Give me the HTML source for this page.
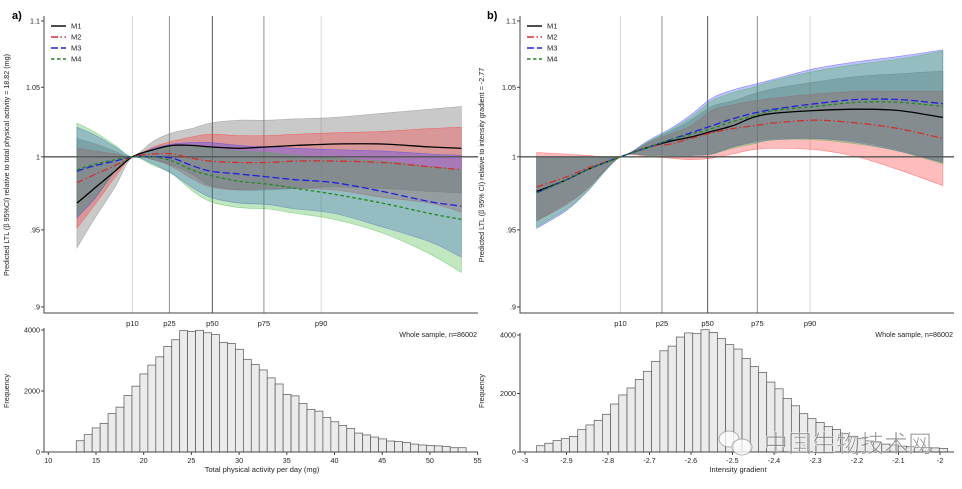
<!DOCTYPE html>
<html><head><meta charset="utf-8"><style>
body{margin:0;background:#fff;width:962px;height:489px;overflow:hidden}
svg{display:block;font-family:"Liberation Sans","Noto Sans CJK SC",sans-serif}
</style></head><body>
<svg id="c" width="962" height="489" viewBox="0 0 962 489" xmlns="http://www.w3.org/2000/svg">
<text x="12" y="19" font-size="11" font-weight="bold">a)</text>
<text x="487" y="19" font-size="11" font-weight="bold">b)</text>
<text transform="translate(9,165) rotate(-90)" font-size="7.2" text-anchor="middle" fill="#222">Predicted LTL (β 95%CI) relative to total physical activity = 18.82 (mg)</text>
<text transform="translate(484,165) rotate(-90)" font-size="7.2" text-anchor="middle" fill="#222">Predicted LTL (β 95% CI) relative to intensity gradient = -2.77</text>
<text transform="translate(9,391) rotate(-90)" font-size="7.2" text-anchor="middle" fill="#222">Frequency</text>
<text transform="translate(484,391) rotate(-90)" font-size="7.2" text-anchor="middle" fill="#222">Frequency</text>
<text x="262" y="472" font-size="7.5" text-anchor="middle" fill="#222">Total physical activity per day (mg)</text>
<text x="738" y="472" font-size="7.5" text-anchor="middle" fill="#222">Intensity gradient</text>
<text x="477" y="337" font-size="7.2" text-anchor="end" fill="#222">Whole sample, n=86002</text>
<text x="953" y="337" font-size="7.2" text-anchor="end" fill="#222">Whole sample, n=86002</text>
<g id="gA"></g><g id="gB"></g>
<g opacity="0.75">
<ellipse cx="729" cy="439" rx="10" ry="8" fill="#fff" stroke="#999" stroke-width="1"/>
<ellipse cx="742" cy="447" rx="10" ry="8" fill="#fff" stroke="#999" stroke-width="1"/>
<text x="764" y="452" font-size="24" fill="#777" stroke="#fff" stroke-width="0.6">中国生物技术网</text>
</g>
</svg>
<script>
// ---------- Panel A data ----------
const xA = [13,15,17,18.82,21,23,25,27,30,33,36,40,45,50,53.3];
const m1A = [.968,.979,.990,1,1.005,1.008,1.008,1.007,1.006,1.007,1.008,1.009,1.009,1.007,1.006];
const m1AUp = [1.013,1.009,1.004,1,1.011,1.017,1.020,1.024,1.026,1.026,1.027,1.028,1.031,1.034,1.036];
const m1ALo = [.938,.959,.979,1,.998,.994,.988,.980,.977,.977,.978,.979,.978,.976,.975];
const m2A = [.982,.988,.994,1,1.002,1.002,.999,.997,.996,.996,.997,.997,.996,.993,.991];
const m2AUp = [1.006,1.004,1.002,1,1.007,1.011,1.014,1.016,1.015,1.015,1.016,1.017,1.018,1.020,1.021];
const m2ALo = [.951,.968,.986,1,.998,.993,.985,.979,.977,.978,.978,.977,.972,.968,.962];
const m3A = [.990,.994,.997,1,1.000,.999,.994,.990,.988,.986,.984,.982,.976,.969,.966];
const m3AUp = [1.021,1.015,1.007,1,1.006,1.009,1.010,1.010,1.008,1.007,1.006,1.005,1.004,1.002,1.001];
const m3ALo = [.958,.972,.990,1,.995,.988,.979,.972,.968,.967,.964,.961,.952,.942,.932];
const m4A = [.991,.995,.998,1,1.000,.997,.991,.987,.983,.981,.978,.974,.968,.961,.957];
const m4AUp = [1.024,1.017,1.008,1,1.005,1.007,1.007,1.006,1.004,1.003,1.001,.999,.997,.993,.991];
const m4ALo = [.959,.973,.990,1,.994,.988,.977,.969,.965,.964,.961,.957,.948,.934,.922];
const pctA = [18.82,22.7,27.2,32.6,38.6];
const histA = [370,570,790,940,1260,1470,1850,2160,2560,2850,3120,3460,3680,3980,3950,3990,3910,3850,3590,3560,3370,3040,2870,2690,2430,2230,1890,1840,1590,1400,1340,1130,990,870,770,620,560,490,430,360,340,310,260,230,210,200,180,140,140];
const histAStart = 12.93, histABin = 0.834;
const xTicksA = [10,15,20,25,30,35,40,45,50,55];
// ---------- Panel B data ----------
const xB = [-2.972,-2.9,-2.85,-2.77,-2.7,-2.65,-2.6,-2.55,-2.5,-2.45,-2.4,-2.3,-2.2,-2.1,-1.993];
const m1B = [.976,.984,.991,1,1.007,1.011,1.014,1.018,1.022,1.028,1.031,1.033,1.034,1.033,1.028];
const m1BUp = [1,1,1,1,1.011,1.018,1.026,1.036,1.040,1.045,1.049,1.054,1.058,1.060,1.062];
const m1BLo = [.956,.968,.978,1,1.001,1.001,1.001,1.002,1.007,1.011,1.013,1.013,1.011,1.005,.996];
const m2B = [.979,.986,.992,1,1.007,1.009,1.013,1.017,1.020,1.022,1.024,1.026,1.024,1.020,1.013];
const m2BUp = [1.003,1.002,1.001,1,1.010,1.016,1.022,1.033,1.037,1.040,1.042,1.045,1.047,1.047,1.047];
const m2BLo = [.956,.967,.978,1,1.000,.999,.998,.999,1.002,1.005,1.006,1.005,1.000,.991,.980];
const m3B = [.975,.984,.991,1,1.007,1.012,1.017,1.022,1.027,1.031,1.034,1.038,1.041,1.041,1.038];
const m3BUp = [1,1,1,1,1.012,1.020,1.030,1.042,1.048,1.052,1.056,1.064,1.069,1.073,1.078];
const m3BLo = [.951,.963,.976,1,1.001,1.001,1.001,1.002,1.007,1.010,1.012,1.013,1.010,1.004,.996];
const m4B = [.975,.984,.991,1,1.007,1.012,1.016,1.020,1.025,1.029,1.033,1.036,1.039,1.039,1.036];
const m4BUp = [1,1,1,1,1.011,1.019,1.028,1.040,1.046,1.050,1.055,1.062,1.067,1.071,1.077];
const m4BLo = [.952,.964,.976,1,1.001,1.001,1.001,1.002,1.006,1.009,1.012,1.012,1.009,1.004,.995];
const pctB = [-2.77,-2.67,-2.56,-2.44,-2.313];
const histB = [215,300,390,455,535,765,925,1080,1290,1640,1950,2190,2480,2760,3100,3460,3620,3930,4070,4045,4180,4090,3880,3670,3520,3200,2920,2720,2390,2160,1830,1580,1310,1140,1010,870,770,640,550,460,380,320,270,240,200,180,160,150,140,125];
const histBStart = -2.972, histBBin = 0.0198;
const xTicksB = [-3,-2.9,-2.8,-2.7,-2.6,-2.5,-2.4,-2.3,-2.2,-2.1,-2];
const xTickLabelsB = ["-3","-2.9","-2.8","-2.7","-2.6","-2.5","-2.4","-2.3","-2.2","-2.1","-2"];
const pctLabels = ["p10","p25","p50","p75","p90"];
const yTicks = [0.9,0.95,1,1.05,1.1];
const yTickLabels = [".9",".95","1","1.05","1.1"];
const histYTicks = [0,2000,4000];
const modelNames = ["M1","M2","M3","M4"];

const NS="http://www.w3.org/2000/svg";
function mk(p,tag,attrs){const e=document.createElementNS(NS,tag);for(const k in attrs)e.setAttribute(k,attrs[k]);p.appendChild(e);return e;}
const yScale = v => 156.8 - 1425*Math.log(v);
function smooth(pts){let d="M"+pts[0][0].toFixed(1)+","+pts[0][1].toFixed(1);
 for(let i=0;i<pts.length-1;i++){const p0=pts[Math.max(0,i-1)],p1=pts[i],p2=pts[i+1],p3=pts[Math.min(pts.length-1,i+2)];
  const c1=[p1[0]+(p2[0]-p0[0])/6,p1[1]+(p2[1]-p0[1])/6],c2=[p2[0]-(p3[0]-p1[0])/6,p2[1]-(p3[1]-p1[1])/6];
  d+="C"+c1[0].toFixed(1)+","+c1[1].toFixed(1)+" "+c2[0].toFixed(1)+","+c2[1].toFixed(1)+" "+p2[0].toFixed(1)+","+p2[1].toFixed(1);}
 return d;}
function smoothRev(pts){const d=smooth(pts.slice().reverse());return "L"+d.slice(1);}

const colors=[["#777","#000"],["#ff3030","#d03030"],["#3a3aff","#2020e0"],["#3cb43c","#208a20"]];
const dashes=["none","7 2.5 1.5 2.5","7 3","3.5 2.5"];

function panel(g,key,xs,series,pct,xScale,axL,axR,histData,hStart,hBin,hTicks,hTickLabels,hxScale,hY0,hY4000){
 // percentile lines
 pct.forEach((p,i)=>{const x=xScale(p);
  const l=mk(g,"line",{x1:x,x2:x,y1:16,y2:313,stroke:(i==0||i==4)?"#d8d8d8":(i==2?"#666":"#999"),"stroke-width":(i==0||i==4)?1:1.1});
  
  
  const t=mk(g,"text",{x:x,y:326,"font-size":7.5,"text-anchor":"middle",fill:"#222"});t.textContent=pctLabels[i];
  
  });
 // bands
 series.forEach((s,k)=>{const up=xs.map((x,i)=>[xScale(x),yScale(s[1][i])]),lo=xs.map((x,i)=>[xScale(x),yScale(s[2][i])]);
  const b=mk(g,"path",{d:smooth(up)+smoothRev(lo)+"Z",fill:colors[k][0],"fill-opacity":k==0?0.4:0.32,stroke:colors[k][0],"stroke-opacity":0.5,"stroke-width":0.6});
  
  });
 // ref line
 const r=mk(g,"line",{x1:axL,x2:axR,y1:yScale(1),y2:yScale(1),stroke:"#555","stroke-width":1.4});
 
 
 series.forEach((s,k)=>{const pts=xs.map((x,i)=>[xScale(x),yScale(s[0][i])]);
  const l=mk(g,"path",{d:smooth(pts),fill:"none",stroke:colors[k][1],"stroke-width":1.3,"stroke-dasharray":dashes[k]});
  
  });
 // axes
 mk(g,"path",{d:`M${axL},16V313H${axR}`,fill:"none",stroke:"#444","stroke-width":1});
 yTicks.forEach((v,i)=>{const y=yScale(v);mk(g,"line",{x1:axL-3,x2:axL,y1:y,y2:y,stroke:"#444"});
  const t=mk(g,"text",{x:axL-4,y:y+2.5,"font-size":7.2,"text-anchor":"end",fill:"#222"});t.textContent=yTickLabels[i];
  
  });
 // legend
 modelNames.forEach((n,k)=>{const y=26+k*11;
  mk(g,"line",{x1:axL+7,x2:axL+22,y1:y,y2:y,stroke:colors[k][1],"stroke-width":1.4,"stroke-dasharray":dashes[k]});
  const t=mk(g,"text",{x:axL+27,y:y+2.5,"font-size":7.5,fill:"#222"});t.textContent=n;
  
  });
 // histogram
 const hy=v=>hY0-(hY0-hY4000)*v/4000;
 histData.forEach((v,i)=>{const x0=hxScale(hStart+i*hBin),x1=hxScale(hStart+(i+1)*hBin);
  const b=mk(g,"rect",{x:x0,y:hy(v),width:x1-x0,height:hY0-hy(v),fill:"#ebebeb",stroke:"#555","stroke-width":0.7});
  
  });
 mk(g,"path",{d:`M${axL},${hY4000-2}V${hY0}H${axR}`,fill:"none",stroke:"#444","stroke-width":1});
 histYTicks.forEach(v=>{const y=hy(v);mk(g,"line",{x1:axL-3,x2:axL,y1:y,y2:y,stroke:"#444"});
  const t=mk(g,"text",{x:axL-4,y:y+2.5,"font-size":7.2,"text-anchor":"end",fill:"#222"});t.textContent=v;
  
  });
 hTicks.forEach((v,i)=>{const x=hxScale(v);mk(g,"line",{x1:x,x2:x,y1:hY0,y2:hY0+3,stroke:"#444"});
  const t=mk(g,"text",{x:x,y:hY0+11,"font-size":7.2,"text-anchor":"middle",fill:"#222"});t.textContent=hTickLabels[i];
  
  });
}
const sxA=v=>48.3+(v-10)*9.54;
const sxB=v=>525+(v+3)*415;
panel(document.getElementById("gA"),"a",xA,[[m1A,m1AUp,m1ALo],[m2A,m2AUp,m2ALo],[m3A,m3AUp,m3ALo],[m4A,m4AUp,m4ALo]],pctA,sxA,44,478,histA,histAStart,histABin,xTicksA,xTicksA.map(String),sxA,452,330);
panel(document.getElementById("gB"),"b",xB,[[m1B,m1BUp,m1BLo],[m2B,m2BUp,m2BLo],[m3B,m3BUp,m3BLo],[m4B,m4BUp,m4BLo]],pctB,sxB,520,954,histB,histBStart,histBBin,xTicksB,xTickLabelsB,sxB,452,335);
</script>
</body></html>
